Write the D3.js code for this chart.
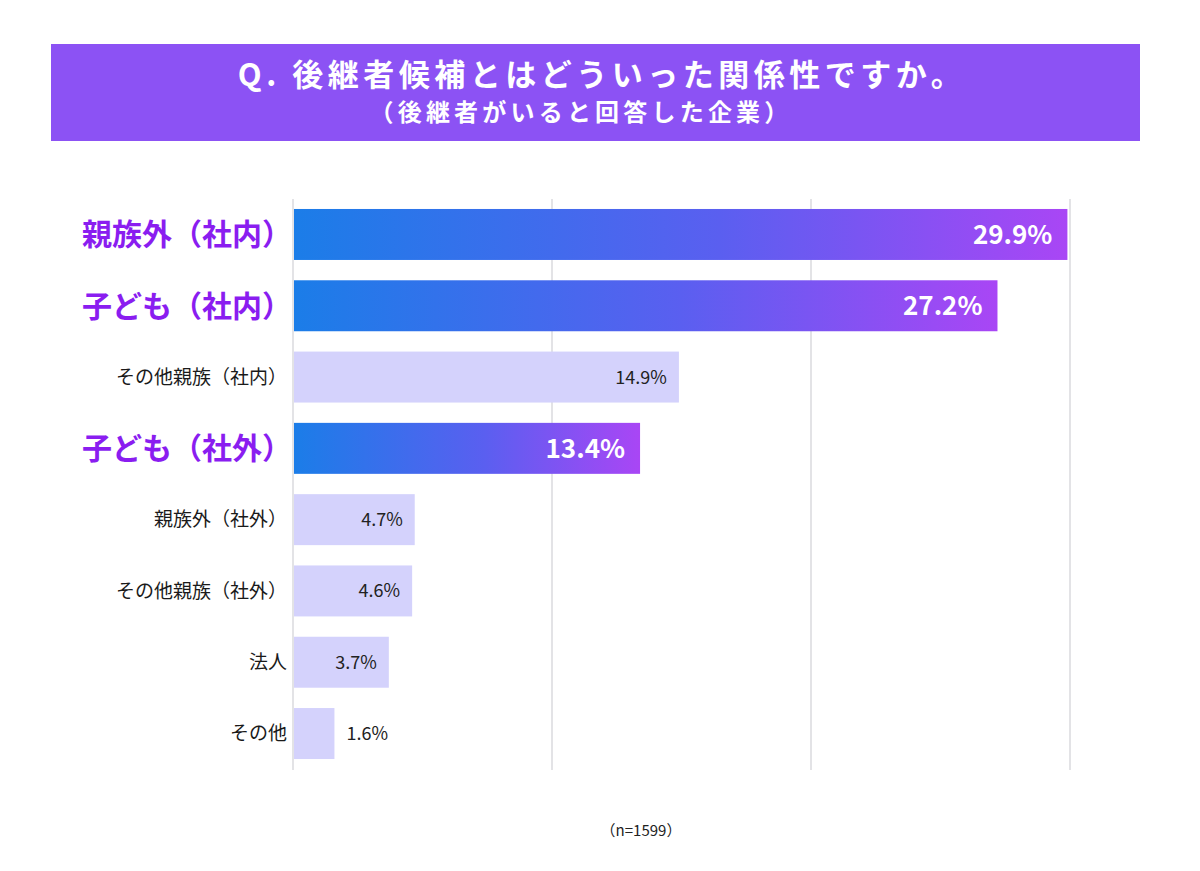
<!DOCTYPE html>
<html>
<head>
<meta charset="utf-8">
<script src="https://cdn.jsdelivr.net/npm/d3@7"></script>
<style>
  body { margin: 0; background: #fff; }
  svg { display: block; font-family: "Noto Sans CJK JP", "Noto Sans", sans-serif; }
</style>
</head>
<body>
<svg id="chart" width="1200" height="871"></svg>
<script>
// chart data
const categories = ["親族外（社内）", "子ども（社内）", "その他親族（社内）", "子ども（社外）",
  "親族外（社外）", "その他親族（社外）", "法人", "その他"];
const values = [29.9, 27.2, 14.9, 13.4, 4.7, 4.6, 3.7, 1.6];
const highlighted = [true, true, false, true, false, false, false, false];
const gridTicks = [0, 10, 20, 30];
const titleText = "Q. 後継者候補とはどういった関係性ですか。";
const subtitleText = "（後継者がいると回答した企業）";
const noteText = "（n=1599）";

const rows = categories.map((c, i) => ({ name: c, value: values[i], hi: highlighted[i] }));

const svg = d3.select("#chart");

// gradient used by the highlighted bars
const grad = svg.append("defs").append("linearGradient")
  .attr("id", "barGrad")
  .attr("x1", "0%").attr("x2", "100%").attr("y1", "0%").attr("y2", "0%");
grad.append("stop").attr("offset", "0%").attr("stop-color", "#1b7de8");
grad.append("stop").attr("offset", "55%").attr("stop-color", "#5a5ff0");
grad.append("stop").attr("offset", "100%").attr("stop-color", "#a946f5");

// title banner
svg.append("rect")
  .attr("x", 51).attr("y", 44).attr("width", 1089).attr("height", 97)
  .attr("fill", "#8c52f4");
svg.append("text")
  .attr("x", 602).attr("y", 86)
  .attr("text-anchor", "middle")
  .attr("fill", "#fff").attr("font-weight", "bold")
  .attr("font-size", 31).attr("letter-spacing", 4.5)
  .text(titleText);
svg.append("text")
  .attr("x", 581).attr("y", 121)
  .attr("text-anchor", "middle")
  .attr("fill", "#fff").attr("font-weight", "bold")
  .attr("font-size", 24).attr("letter-spacing", 4.2)
  .text(subtitleText);

// scales
const x = d3.scaleLinear().domain([0, 30]).range([293, 1070]);
const y = d3.scaleBand()
  .domain(categories)
  .range([199, 769])
  .paddingInner(0.285)
  .paddingOuter(0.14);

// grid lines
svg.append("g").selectAll("line")
  .data(gridTicks)
  .join("line")
  .attr("x1", d => x(d)).attr("x2", d => x(d))
  .attr("y1", 199).attr("y2", 770)
  .attr("stroke", "#e3e3e6").attr("stroke-width", 2);

// bars
svg.append("g").selectAll("rect")
  .data(rows)
  .join("rect")
  .attr("x", x(0) + 1)
  .attr("y", d => y(d.name))
  .attr("width", d => x(d.value) - x(0) - 1)
  .attr("height", y.bandwidth())
  .attr("fill", d => d.hi ? "url(#barGrad)" : "#d4d2fc");

// category labels
svg.append("g").selectAll("text")
  .data(rows)
  .join("text")
  .attr("x", d => d.hi ? 292 : 287)
  .attr("y", d => y(d.name) + y.bandwidth() / 2)
  .attr("dy", "0.36em")
  .attr("text-anchor", "end")
  .attr("fill", d => d.hi ? "#8a1df0" : "#1a1a1a")
  .attr("font-weight", d => d.hi ? "bold" : "normal")
  .attr("font-size", d => d.hi ? 30 : 19)
  .text(d => d.name);

// value labels
const inside = d => x(d.value) - x(0) > 60;
svg.append("g").selectAll("text")
  .data(rows)
  .join("text")
  .attr("x", d => inside(d) ? x(d.value) - (d.hi ? 15 : 12) : x(d.value) + 12)
  .attr("y", d => y(d.name) + y.bandwidth() / 2)
  .attr("dy", "0.36em")
  .attr("text-anchor", d => inside(d) ? "end" : "start")
  .attr("fill", d => d.hi ? "#fff" : "#222")
  .attr("font-weight", d => d.hi ? "bold" : "normal")
  .attr("font-size", d => d.hi ? 26 : 18)
  .text(d => d.value.toFixed(1) + "%");

// footnote
svg.append("text")
  .attr("x", 641).attr("y", 836)
  .attr("text-anchor", "middle")
  .attr("fill", "#222")
  .attr("font-size", 15)
  .text(noteText);
</script>
</body>
</html>
